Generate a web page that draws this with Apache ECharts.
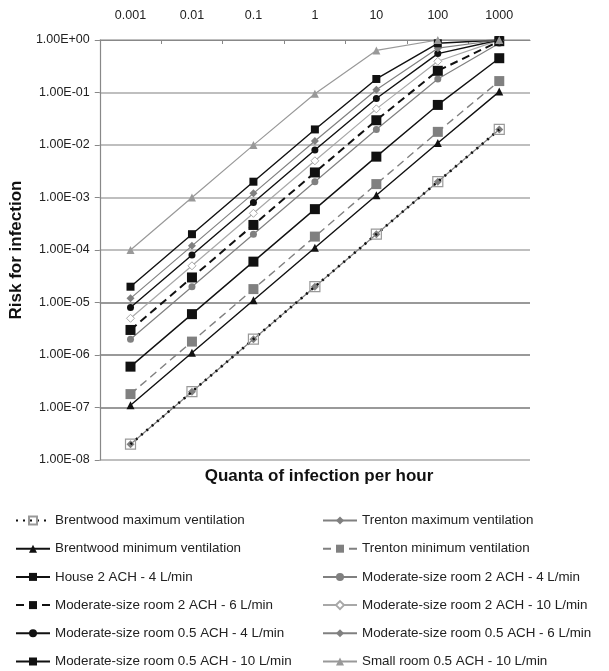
<!DOCTYPE html>
<html>
<head>
<meta charset="utf-8">
<script src="https://cdn.jsdelivr.net/npm/echarts@6/dist/echarts.min.js"></script>
<style>
html,body{margin:0;padding:0;background:#fff;}
#chart{width:609px;height:671px;}
</style>
</head>
<body>
<div id="chart"></div>
<script>
// Categories (quanta of infection per hour)
const quanta = ['0.001', '0.01', '0.1', '1', '10', '100', '1000'];

// Series values (risk for infection)
const brentwoodMax = [2e-8, 2e-7, 2e-6, 2e-5, 2e-4, 0.002, 0.0198];
const trentonMax = [2e-8, 2e-7, 2e-6, 2e-5, 2e-4, 0.002, 0.0198];
const brentwoodMin = [1.1e-7, 1.1e-6, 1.1e-5, 1.1e-4, 0.0011, 0.0109, 0.104];
const trentonMin = [1.8e-7, 1.8e-6, 1.8e-5, 1.8e-4, 0.0018, 0.0178, 0.165];
const house2ach4 = [6e-7, 6e-6, 6e-5, 6e-4, 0.006, 0.058, 0.45];
const mod2ach4 = [2e-6, 2e-5, 2e-4, 0.002, 0.0198, 0.181, 0.865];
const mod2ach6 = [3e-6, 3e-5, 3e-4, 0.003, 0.0296, 0.259, 0.95];
const mod2ach10 = [5e-6, 5e-5, 5e-4, 0.005, 0.0488, 0.393, 0.993];
const mod05ach4 = [8e-6, 8e-5, 8e-4, 0.008, 0.077, 0.551, 0.9997];
const mod05ach6 = [1.2e-5, 1.2e-4, 1.2e-3, 0.0119, 0.113, 0.699, 1.0];
const mod05ach10 = [2e-5, 2e-4, 2e-3, 0.0198, 0.181, 0.865, 1.0];
const smallRoom = [1e-4, 1e-3, 0.00995, 0.095, 0.632, 1.0, 1.0];

const names = {
  bMax: 'Brentwood maximum ventilation',
  tMax: 'Trenton maximum ventilation',
  bMin: 'Brentwood minimum ventilation',
  tMin: 'Trenton minimum ventilation',
  house: 'House 2 ACH - 4 L/min',
  m2a4: 'Moderate-size room 2 ACH - 4 L/min',
  m2a6: 'Moderate-size room 2 ACH - 6 L/min',
  m2a10: 'Moderate-size room 2 ACH - 10 L/min',
  m05a4: 'Moderate-size room 0.5 ACH - 4 L/min',
  m05a6: 'Moderate-size room 0.5 ACH - 6 L/min',
  m05a10: 'Moderate-size room 0.5 ACH - 10 L/min',
  small: 'Small room 0.5 ACH - 10 L/min'
};

const BLACK = '#111';
const GRAY = '#808080';
const LGRAY = '#a8a8a8';

function mk(name, data, o) {
  return {
    name: name, type: 'line', data: data,
    symbol: o.symbol, symbolSize: o.size,
    showAllSymbol: true,
    z: o.z || 2,
    lineStyle: { color: o.line, width: o.width || 1.4, type: o.type || 'solid' },
    itemStyle: { color: o.fill, borderColor: o.border || o.fill, borderWidth: o.bw || 0 },
    emphasis: { disabled: true },
    animation: false
  };
}

const series = [
  mk(names.bMax, brentwoodMax, { symbol: 'rect', size: 10, line: BLACK, width: 2.6, type: [2, 5], fill: 'rgba(255,255,255,0)', border: '#999', bw: 1.2, z: 4 }),
  mk(names.tMax, trentonMax, { symbol: 'diamond', size: 8, line: GRAY, width: 1.2, fill: GRAY, z: 3 }),
  mk(names.bMin, brentwoodMin, { symbol: 'triangle', size: 8, line: BLACK, width: 1.4, fill: BLACK }),
  mk(names.tMin, trentonMin, { symbol: 'rect', size: 10, line: GRAY, width: 1.4, type: [8, 5], fill: GRAY }),
  mk(names.house, house2ach4, { symbol: 'rect', size: 10, line: BLACK, width: 1.4, fill: BLACK }),
  mk(names.m2a4, mod2ach4, { symbol: 'circle', size: 7, line: GRAY, width: 1.2, fill: GRAY }),
  mk(names.m2a6, mod2ach6, { symbol: 'rect', size: 10, line: BLACK, width: 2, type: [8, 5], fill: BLACK }),
  mk(names.m2a10, mod2ach10, { symbol: 'diamond', size: 8, line: LGRAY, width: 1.2, fill: '#fff', border: LGRAY, bw: 1 }),
  mk(names.m05a4, mod05ach4, { symbol: 'circle', size: 7, line: BLACK, width: 1.4, fill: BLACK }),
  mk(names.m05a6, mod05ach6, { symbol: 'diamond', size: 8, line: GRAY, width: 1.2, fill: GRAY }),
  mk(names.m05a10, mod05ach10, { symbol: 'rect', size: 8, line: BLACK, width: 1.4, fill: BLACK }),
  mk(names.small, smallRoom, { symbol: 'triangle', size: 8, line: '#999', width: 1.2, fill: '#999' })
];

function fmtExp(v) {
  const s = Number(v).toExponential(2); // e.g. 1.00e-4
  const parts = s.split('e');
  let exp = parseInt(parts[1], 10);
  const sign = exp < 0 ? '-' : '+';
  exp = Math.abs(exp);
  return parts[0] + 'E' + sign + (exp < 10 ? '0' + exp : '' + exp);
}

const legendText = { fontFamily: 'Liberation Sans, Arial, sans-serif', fontSize: 13.4, color: '#222' };

const option = {
  backgroundColor: '#fff',
  animation: false,
  grid: { left: 98, right: 79, top: 40, bottom: 211, containLabel: false },
  title: {
    text: 'Quanta of infection per hour',
    left: 314, top: 463, textAlign: 'center',
    textStyle: { fontFamily: 'Liberation Sans, Arial, sans-serif', fontSize: 17, fontWeight: 'bold', color: '#111' }
  },
  legend: [
    {
      orient: 'vertical', left: 15, top: 514, height: 175, padding: 0,
      itemWidth: 34, itemHeight: 10, itemGap: 15.2,
      textStyle: legendText, selectedMode: false,
      data: [names.bMax, names.bMin, names.house, names.m2a6, names.m05a4, names.m05a10]
    },
    {
      orient: 'vertical', left: 322, top: 514, height: 175, padding: 0,
      itemWidth: 34, itemHeight: 10, itemGap: 15.2,
      textStyle: legendText, selectedMode: false,
      data: [names.tMax, names.tMin, names.m2a4, names.m2a10, names.m05a6, names.small]
    }
  ],
  xAxis: {
    type: 'category', position: 'top', data: quanta, boundaryGap: true,
    axisLine: { show: true, lineStyle: { color: '#888', width: 1.2 } },
    axisTick: { show: true, inside: true, length: 4, lineStyle: { color: '#888' } },
    axisLabel: { margin: 18, fontFamily: 'Liberation Sans, Arial, sans-serif', fontSize: 12.5, color: '#222' },
    splitLine: { show: false }
  },
  yAxis: {
    type: 'log', logBase: 10, min: 1e-8, max: 1, interval: 1,
    name: 'Risk for infection', nameLocation: 'middle', nameGap: 69, nameRotate: 90,
    nameTextStyle: { fontFamily: 'Liberation Sans, Arial, sans-serif', fontSize: 17, fontWeight: 'bold', color: '#111' },
    axisLine: { show: true, lineStyle: { color: '#888', width: 1.2 } },
    axisTick: { show: true, inside: false, length: 5, lineStyle: { color: '#888' } },
    minorTick: { show: false },
    axisLabel: { margin: 10, formatter: fmtExp, fontFamily: 'Liberation Sans, Arial, sans-serif', fontSize: 12.5, color: '#222' },
    splitLine: { show: true, lineStyle: { color: ['#aaa', '#777', '#777', '#777', '#aaa', '#aaa', '#aaa', '#aaa', '#aaa'], width: 1.5 } }
  },
  series: series
};

const chart = echarts.init(document.getElementById('chart'), null, { renderer: 'canvas' });
chart.setOption(option);
</script>
</body>
</html>
